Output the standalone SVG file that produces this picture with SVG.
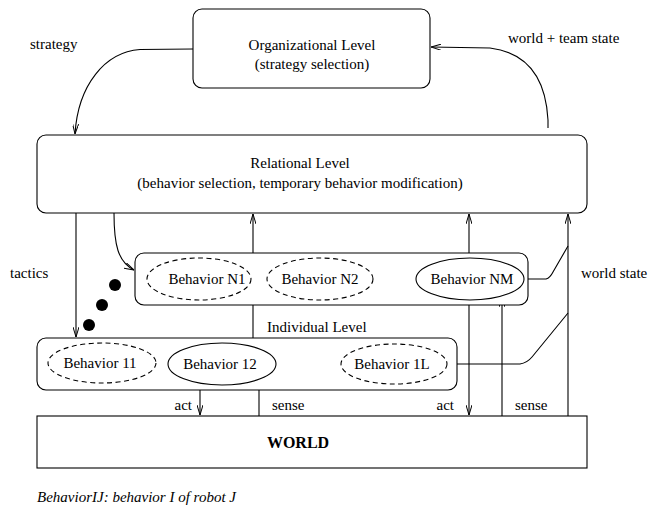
<svg xmlns="http://www.w3.org/2000/svg" width="650" height="518" viewBox="0 0 650 518">
  <style>
    .box { fill: #fff; stroke: #000; stroke-width: 1.1; }
    .ell { fill: none; stroke: #000; stroke-width: 1.1; }
    .dash { stroke-dasharray: 5 3.5; }
    .wire { fill: none; stroke: #000; stroke-width: 1.1; }
    .arr { marker-end: url(#head); }
    text { font-family: "Liberation Serif", "Times New Roman", serif; font-size: 15px; fill: #000; }
    .mid { text-anchor: middle; }
    .end { text-anchor: end; }
    .bold { font-weight: bold; font-size: 16px; }
    .cap { font-style: italic; }
  </style>
  <defs>
    <marker id="head" viewBox="0 0 10 6" refX="10" refY="3" markerWidth="10" markerHeight="6" markerUnits="userSpaceOnUse" orient="auto">
      <path d="M0,0 L10,3 L0,6" fill="none" stroke="#000" stroke-width="1"/>
    </marker>
  </defs>

  <rect width="650" height="518" fill="#fff"/>

  <!-- connectors -->
  <g id="connectors">
    <!-- strategy: organizational -> relational -->
    <path class="wire arr" d="M193,49 L140,49.5 C105,52 78,85 75,134"/>
    <!-- world + team state: relational -> organizational -->
    <path class="wire arr" d="M548,128 L548,120 C546,82 530,53 490,48 L431,47"/>
    <!-- tactics -->
    <path class="wire arr" d="M76,213 L76,337"/>
    <path class="wire arr" d="M114,213 C114,245 118,262 134,270"/>
    <!-- behavior reports up to the relational level -->
    <path class="wire arr" d="M253,344 L253,214"/>
    <path class="wire arr" d="M469,259 L469,214"/>
    <path class="wire arr" d="M568,416 L568,214"/>
    <!-- world state feeds -->
    <path class="wire" d="M528,279 L546,279 Q550,278 553,272 L568,246"/>
    <path class="wire" d="M457,364 L520,364 Q527,363 532,357 L568,313"/>
    <!-- act / sense -->
    <path class="wire arr" d="M200,383 L200,415"/>
    <path class="wire arr" d="M259,416 L259,380"/>
    <path class="wire arr" d="M469,300 L469,415"/>
    <path class="wire arr" d="M502,416 L502,297"/>
    <text x="192" y="410" class="end">act</text>
    <text x="272" y="410">sense</text>
    <text x="454" y="410" class="end">act</text>
    <text x="515" y="410">sense</text>
    <text x="30" y="49">strategy</text>
    <text x="508" y="43">world + team state</text>
    <text x="10" y="278">tactics</text>
    <text x="581" y="278">world state</text>
  </g>

  <g id="organizational">
    <rect class="box" x="193" y="9" width="237" height="79" rx="9"/>
    <text x="312" y="50" class="mid">Organizational Level</text>
    <text x="312" y="69" class="mid">(strategy selection)</text>
  </g>

  <g id="relational">
    <rect class="box" x="37" y="135" width="550" height="78" rx="9"/>
    <text x="300" y="168" class="mid">Relational Level</text>
    <text x="300" y="188" class="mid">(behavior selection, temporary behavior modification)</text>
  </g>

  <g id="robot-n">
    <rect class="box" x="135" y="253" width="393" height="52" rx="9"/>
    <ellipse class="ell dash" cx="199" cy="279" rx="52" ry="21"/>
    <text x="207" y="284" class="mid">Behavior N1</text>
    <ellipse class="ell dash" cx="320" cy="279" rx="53" ry="21"/>
    <text x="320" y="284" class="mid">Behavior N2</text>
    <ellipse class="ell" cx="470" cy="279" rx="54" ry="21"/>
    <text x="472" y="284" class="mid">Behavior NM</text>
  </g>

  <g id="more-robots">
    <circle cx="115" cy="285" r="6"/>
    <circle cx="102" cy="305" r="6"/>
    <circle cx="89" cy="325" r="6"/>
  </g>

  <g id="individual">
    <text x="267" y="332">Individual Level</text>
    <rect class="box" x="37" y="338" width="420" height="52" rx="9"/>
    <ellipse class="ell dash" cx="102" cy="363" rx="54" ry="20"/>
    <text x="100" y="368" class="mid">Behavior 11</text>
    <ellipse class="ell" cx="222" cy="364" rx="54" ry="21"/>
    <text x="220" y="369" class="mid">Behavior 12</text>
    <ellipse class="ell dash" cx="394" cy="364" rx="53" ry="20"/>
    <text x="392" y="369" class="mid">Behavior 1L</text>
  </g>

  <g id="world">
    <rect class="box" x="37" y="416" width="550" height="52"/>
    <text x="298" y="448" class="mid bold">WORLD</text>
  </g>

  <text x="37" y="502" class="cap">BehaviorIJ: behavior I of robot J</text>
</svg>
